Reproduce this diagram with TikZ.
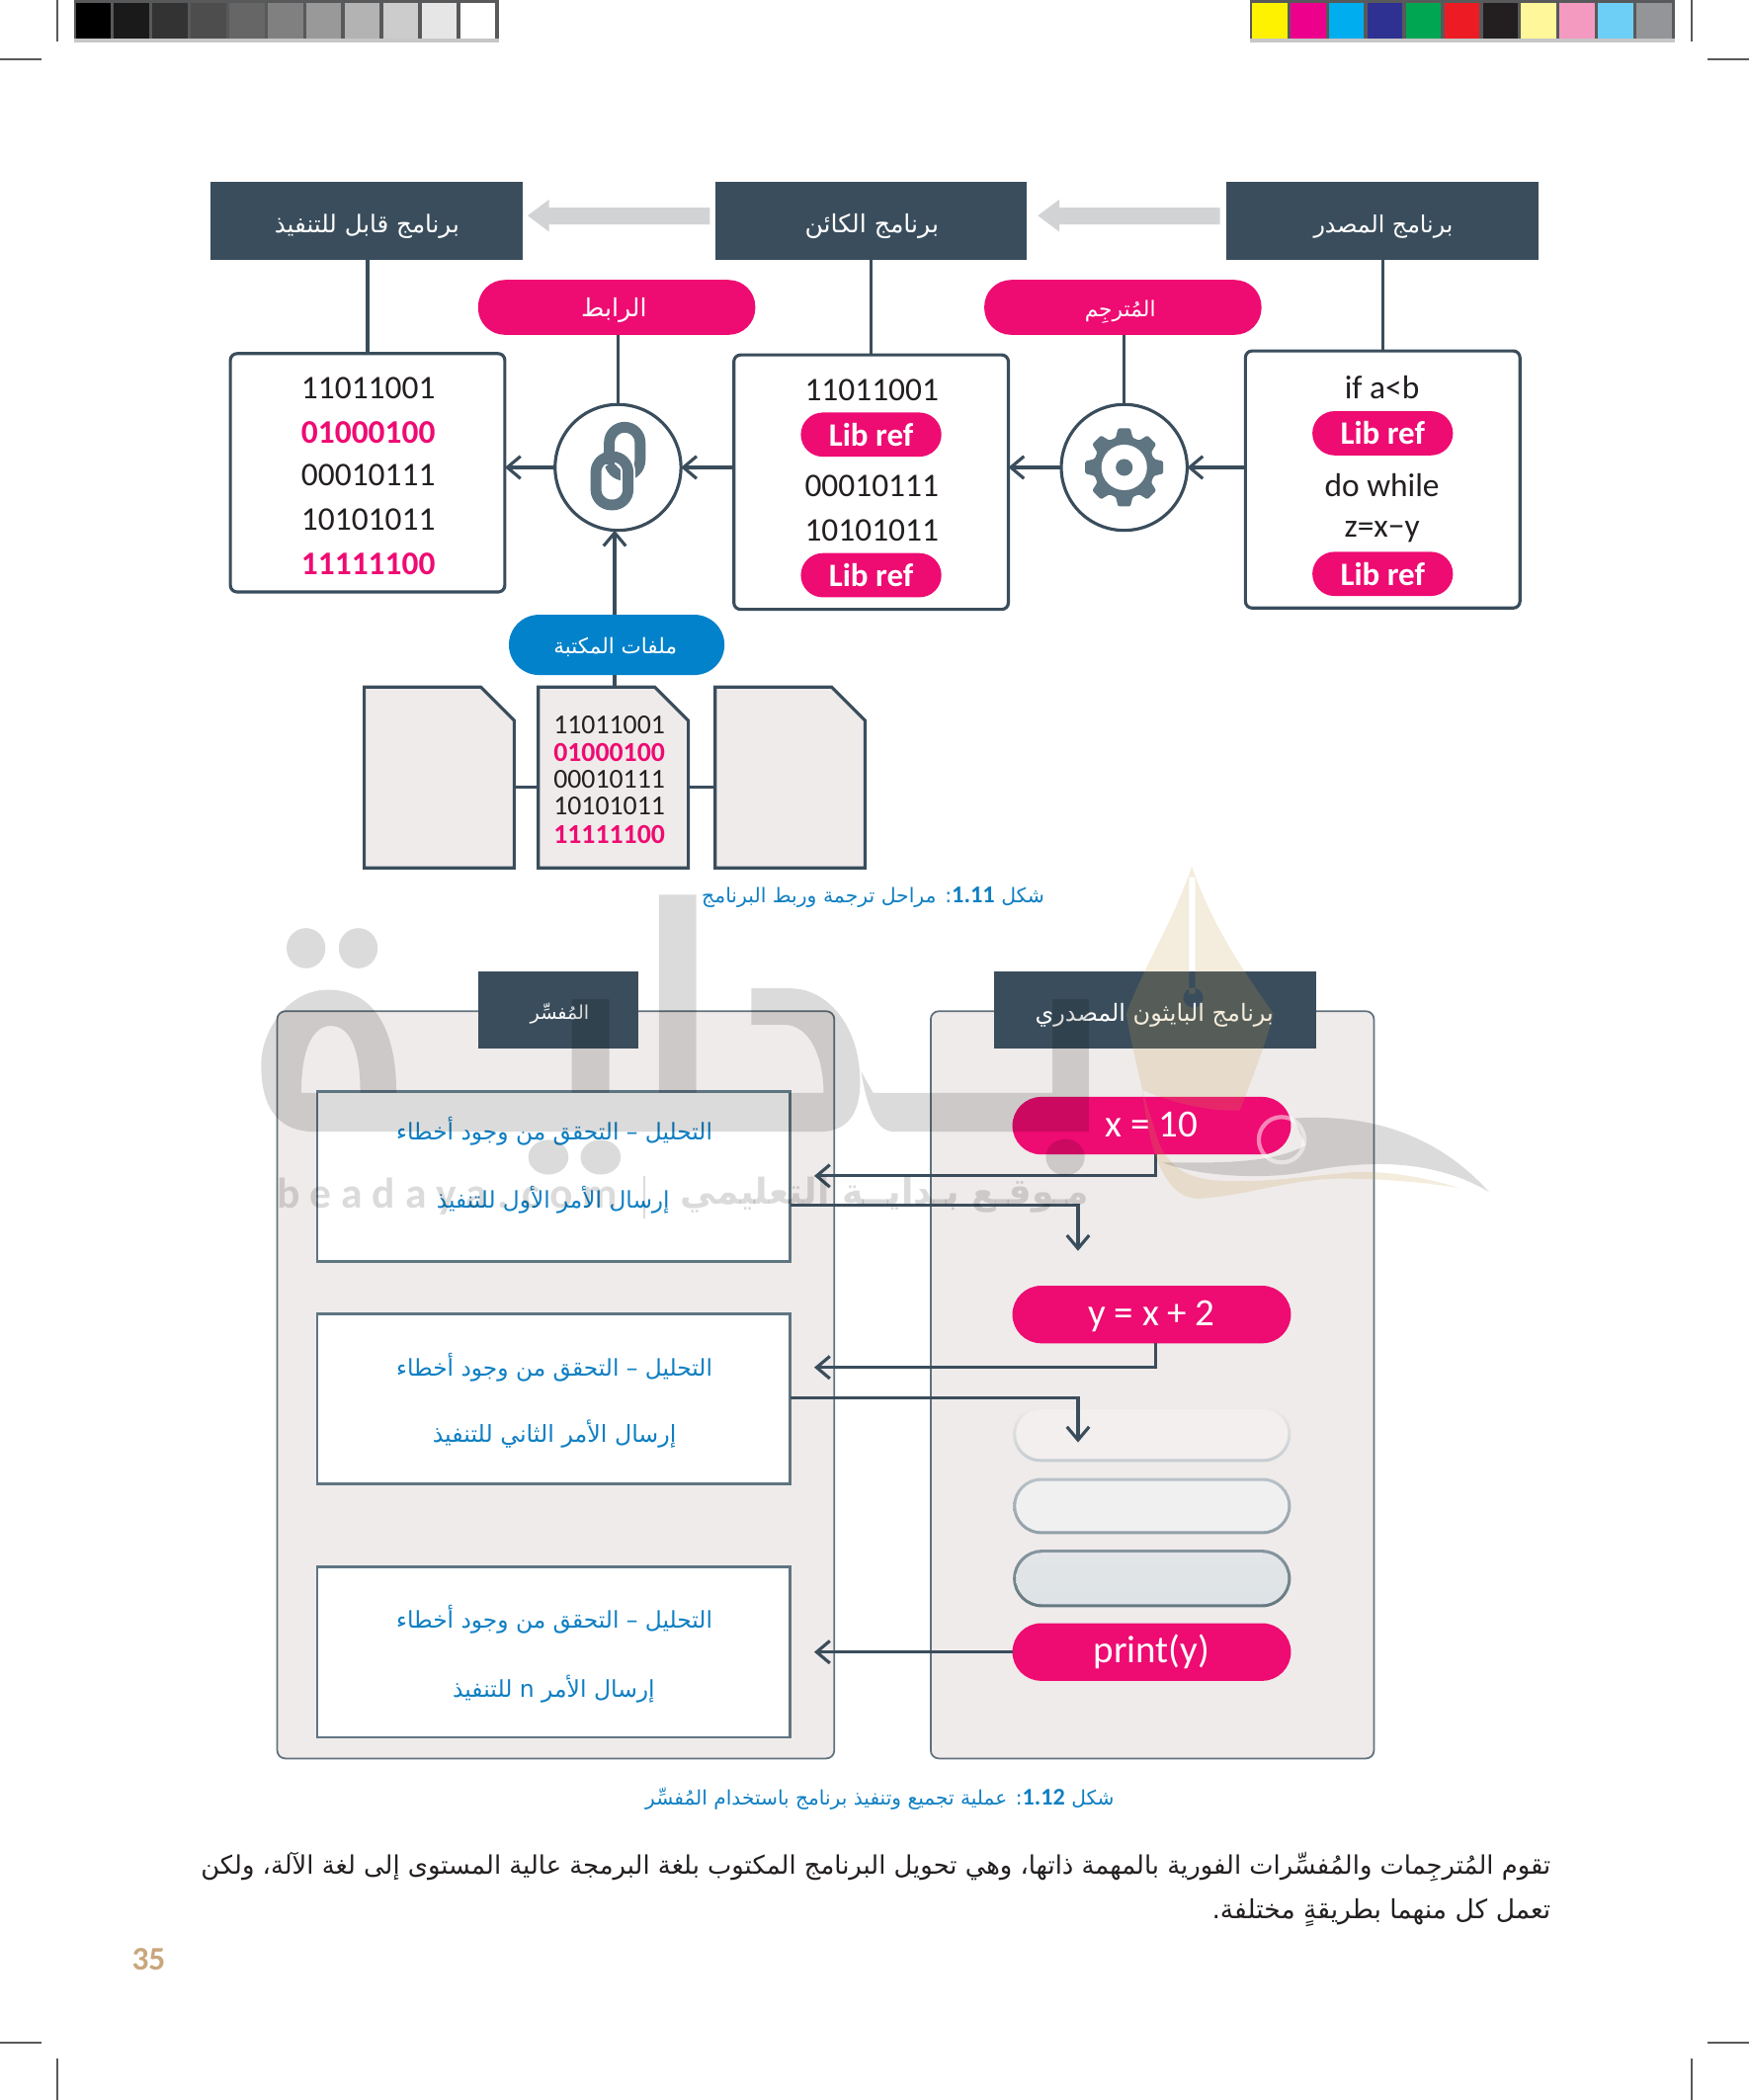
\documentclass[tikz,border=0pt]{standalone}
\usepackage{fontspec}
\usepackage{graphicx}
\usetikzlibrary{arrows.meta}
\setmainfont{Carlito}
\newfontfamily\arfont[Script=Arabic]{DejaVu Sans}
\TeXXeTstate=1
\newdimen\ux \ux=0.3855pt
\newcommand\arw[2]{\resizebox{#1\ux}{!}{\arfont #2}}
\newcommand\codeA{\fontsize{9.5pt}{11pt}\selectfont}
\newcommand\codeB{\fontsize{7.9pt}{9pt}\selectfont}
\newcommand\numb[1]{{\normalfont\bfseries\large #1}}
\definecolor{hdr}{HTML}{3A4D5C}
\definecolor{pinkc}{HTML}{EE0B72}
\definecolor{bluec}{HTML}{0282CB}
\definecolor{panelc}{HTML}{EFEBEA}
\definecolor{grayarrow}{HTML}{D1D3D4}
\definecolor{iconc}{HTML}{5F7582}
\definecolor{txtc}{HTML}{231F20}
\definecolor{capc}{HTML}{0F7FC2}
\definecolor{edgec}{HTML}{58595B}
\tikzset{
  every node/.style={inner sep=0pt,outer sep=0pt},
  sz/.style 2 args={minimum width=#1*\ux,minimum height=#2*\ux},
  hdrbox/.style={fill=hdr},
  hdrtxt/.style={text=white},
  pillbox/.style={fill=pinkc,rounded corners=20*\ux},
  libpill/.style={fill=pinkc,text=white,rounded corners=16.5*\ux,sz={105}{33},font=\fontsize{9.4pt}{12pt}\selectfont\bfseries},
  codepill/.style={fill=pinkc,text=white,rounded corners=21.5*\ux,sz={208}{43},text height=6.3pt,text depth=0pt,font=\fontsize{11.1pt}{13pt}\selectfont},
  codebox/.style={draw=hdr,line width=.9pt,fill=white,rounded corners=5*\ux},
  ring/.style={circle,draw=hdr,line width=.9pt,fill=white,minimum size=94*\ux},
  ln/.style={draw=hdr,line width=.9pt},
  arr/.style={ln,-{Straight Barb[length=3.8pt,width=6.4pt]}},
  codetxt/.style={text=txtc,font=\codeA},
  codepink/.style={text=pinkc,font=\codeA\bfseries},
  doctxt/.style={text=txtc,font=\codeB},
  docpink/.style={text=pinkc,font=\codeB\bfseries},
  docnode/.style={sz={112}{135}},
  docshape/.style={draw=hdr,line width=.9pt,fill=panelc},
  panel/.style={draw=hdr!80,line width=.5pt,fill=panelc,rounded corners=6*\ux},
  whitebox/.style={draw=iconc,line width=.7pt,fill=white,sz={353}{127}},
  bodyblue/.style={text=capc},
  wm/.style={fill=black,fill opacity=.14},
  tan/.style={fill={rgb,255:red,200;green,160;blue,80},fill opacity=.2},
}
\newcommand\docpath[1]{\draw[docshape] (#1.north west) -- ([xshift=-25*\ux]#1.north east) -- ([yshift=-25*\ux]#1.north east) -- (#1.south east) -- (#1.south west) -- cycle;}
\begin{document}
\begin{tikzpicture}[x=0.013553cm,y=-0.013553cm]
\useasboundingbox (0,0) rectangle (1306,1568);
% printer bars
\fill[edgec] (55,0) rectangle (372.5,29);
\fill[edgec] (933.5,0) rectangle (1251,29);
\fill[black!22] (55,29) rectangle (372.5,31.5);
\fill[black!22] (933.5,29) rectangle (1251,31.5);
\foreach \c [count=\i from 0] in {000000,1A1A1A,333333,4D4D4D,666666,808080,999999,B3B3B3,CCCCCC,E6E6E6,FFFFFF}{
  \definecolor{cellc}{HTML}{\c}
  \fill[cellc] ({56.5+\i*28.7},2.5) rectangle ({56.5+\i*28.7+26.2},28.5);
}
\foreach \c [count=\i from 0] in {FFF200,EC008C,00AEEF,2E3192,00A651,ED1C24,231F20,FFF799,F49AC1,6DCFF6,939598}{
  \definecolor{cellc}{HTML}{\c}
  \fill[cellc] ({935+\i*28.7},2.5) rectangle ({935+\i*28.7+26.2},28.5);
}
% crop marks
\draw[edgec,line width=.5pt] (43,0) -- (43,31) (1263,0) -- (1263,31) (0,44) -- (31,44) (1275,44) -- (1306,44)
  (43,1537) -- (43,1568) (1263,1537) -- (1263,1568) (0,1525) -- (31,1525) (1275,1525) -- (1306,1525);
% headers
\node[hdrbox,sz={233}{58}] (exeh) at (273.5,165) {};
\node[hdrbox,sz={233}{58}] (objh) at (650.5,165) {};
\node[hdrbox,sz={233}{58}] (srch) at (1032.5,165) {};
\node[hdrtxt] (exet) at (274,169) {\arw{138}{\beginR برنامج قابل للتنفيذ\endR}};
\node[hdrtxt] (objt) at (651,169) {\arw{100}{\beginR برنامج الكائن\endR}};
\node[hdrtxt] (srct) at (1033,169) {\arw{104}{\beginR برنامج المصدر\endR}};
% grey arrows
\fill[grayarrow] (530,155) -- (410,155) -- (410,149) -- (394,161) -- (410,173) -- (410,167.5) -- (530,167.5) -- cycle;
\fill[grayarrow] (911,155) -- (791,155) -- (791,149) -- (775,161) -- (791,173) -- (791,167.5) -- (911,167.5) -- cycle;
% pills
\node[pillbox,sz={207}{41}] (linker) at (460.5,229.5) {};
\node[pillbox,sz={207}{41}] (compiler) at (838.5,229.5) {};
\node[hdrtxt] (linkert) at (458.5,232) {\arw{49}{\beginR الرابط\endR}};
\node[hdrtxt] (compilert) at (836.5,233) {\arw{53}{\beginR المُترجِم\endR}};
% code boxes
\node[codebox,sz={205}{178}] (exeb) at (274.5,353) {};
\node[codebox,sz={205}{190}] (objb) at (650.5,360) {};
\node[codebox,sz={205}{192}] (srcb) at (1032.5,358) {};
% circles
\node[ring] (link) at (461.5,349) {};
\node[ring] (gear) at (839.5,349) {};
% connectors
\draw[ln] (exeb.north) -- (exeb.north |- exeh.south);
\draw[ln] (objb.north) -- (objb.north |- objh.south);
\draw[ln] (srcb.north) -- (srcb.north |- srch.south);
\draw[ln] (link.north) -- (link.north |- linker.south);
\draw[ln] (gear.north) -- (gear.north |- compiler.south);
\draw[arr] (link.west) -- (link.west -| exeb.east);
\draw[arr] (link.east -| objb.west) -- (link.east);
\draw[arr] (gear.west) -- (gear.west -| objb.east);
\draw[arr] (gear.east -| srcb.west) -- (gear.east);
% gear icon
\begin{scope}[shift={(gear.center)}]
  \fill[iconc,rounded corners=1*\ux] (-16:23)
    \foreach \a in {0,45,...,315}{ -- (\a-16:23) -- (\a-9:29.5) -- (\a+9:29.5) -- (\a+16:23) } -- cycle;
  \fill[white] (0,0) circle[radius=17];
  \fill[iconc] (0,0) circle[radius=6.3];
\end{scope}
% link icon
\begin{scope}[shift={(link.center)}]
  \draw[iconc,line width=3.1pt,rounded corners=11.5*\ux] (-6.5,-30) rectangle (16.5,6);
  \draw[white,line width=4.2pt,rounded corners=11.5*\ux] (-16.5,-8) rectangle (7.5,28);
  \draw[iconc,line width=3.1pt,rounded corners=11.5*\ux] (-16.5,-8) rectangle (7.5,28);
  \draw[iconc,line width=3.1pt] (-6.5,-14) -- (-6.5,-2);
\end{scope}
% code text
\node[codetxt] (e1) at (275,290) {11011001};
\node[codepink] (e2) at (275,323) {01000100};
\node[codetxt] (e3) at (275,355) {00010111};
\node[codetxt] (e4) at (275,388) {10101011};
\node[codepink] (e5) at (275,421) {11111100};
\node[codetxt] (o1) at (651,291) {11011001};
\node[libpill] (o2) at (650.5,324.5) {Lib ref};
\node[codetxt] (o3) at (651,363) {00010111};
\node[codetxt] (o4) at (651,396) {10101011};
\node[libpill] (o5) at (650.5,429.5) {Lib ref};
\node[codetxt] (s1) at (1032,289) {if a<b};
\node[libpill] (s2) at (1032.5,323.5) {Lib ref};
\node[codetxt] (s3) at (1032,362) {do while};
\node[codetxt] (s4) at (1032,397) {z=x−y};
\node[libpill] (s5) at (1032.5,428.5) {Lib ref};
% library
\coordinate (libx) at (459,0);
\coordinate (docy) at (0,588);
\node[fill=bluec,rounded corners=22.5*\ux,sz={161}{45}] (libf) at (460.5,481.5) {};
\node[hdrtxt] (libt) at (459.5,483.5) {\arw{92}{\beginR ملفات المكتبة\endR}};
\draw[arr] (libx |- libf.north) -- (libx |- link.south);
\node[docnode] (doc1) at (328,580.5) {};
\node[docnode] (doc2) at (458,580.5) {};
\node[docnode] (doc3) at (590,580.5) {};
\docpath{doc1}
\docpath{doc2}
\docpath{doc3}
\draw[ln] (doc1.east |- docy) -- (doc2.west |- docy);
\draw[ln] (doc2.east |- docy) -- (doc3.west |- docy);
\draw[ln] (libx |- libf.south) -- (libx |- doc2.north);
\node[doctxt] (d1) at (455,541) {11011001};
\node[docpink] (d2) at (455,562) {01000100};
\node[doctxt] (d3) at (455,582) {00010111};
\node[doctxt] (d4) at (455,602) {10101011};
\node[docpink] (d5) at (455,623) {11111100};
% caption 1
\node[text=capc] (cap1) at (652,670) {\arw{256}{\beginR شكل \beginL\numb{1.11}\endL: مراحل ترجمة وربط البرنامج\endR}};
% panels
\node[panel,sz={416}{558}] (pl) at (415,1034) {};
\node[panel,sz={331}{558}] (pr) at (860.5,1034) {};
\node[hdrbox,sz={120}{58}] (hl) at (417,754) {};
\node[hdrbox,sz={241}{58}] (hr) at (862.5,754) {};
\node[hdrtxt] (hlt) at (418,757) {\arw{44}{\beginR المُفسِّر\endR}};
\node[hdrtxt] (hrt) at (862,758) {\arw{178}{\beginR برنامج البايثون المصدري\endR}};
% white boxes
\node[whitebox] (w1) at (413.5,878.5) {};
\node[whitebox] (w2) at (413.5,1044.5) {};
\node[whitebox] (w3) at (413.5,1233.5) {};
\node[bodyblue] (t11) at (414,845) {\arw{236}{\beginR التحليل – التحقق من وجود أخطاء\endR}};
\node[bodyblue] (t12) at (413,896) {\arw{174}{\beginR إرسال الأمر الأول للتنفيذ\endR}};
\node[bodyblue] (t21) at (414,1021) {\arw{236}{\beginR التحليل – التحقق من وجود أخطاء\endR}};
\node[bodyblue] (t22) at (414,1071) {\arw{182}{\beginR إرسال الأمر الثاني للتنفيذ\endR}};
\node[bodyblue] (t31) at (414,1209) {\arw{236}{\beginR التحليل – التحقق من وجود أخطاء\endR}};
\node[bodyblue] (t32) at (413.5,1261) {\arw{151}{\beginR إرسال الأمر \beginL n\endL{} للتنفيذ\endR}};
% code pills
\node[codepill] (p1) at (860,840.5) {x = 10};
\node[codepill] (p2) at (860,981.5) {y = x + 2};
\node[codepill] (p6) at (860,1233.5) {print(y)};
% pale pills
\definecolor{pa}{HTML}{EFEBEA}\definecolor{pb}{HTML}{C5CCD0}\definecolor{pc}{HTML}{B9C2C7}\definecolor{pd}{HTML}{8F9EA7}
\definecolor{pe}{HTML}{8796A0}\definecolor{pf}{HTML}{63777F}\definecolor{pg}{HTML}{E3E5E8}\definecolor{ph}{HTML}{DDE3E6}
\node[rounded corners=20.5*\ux,top color=pa,bottom color=pb,sz={207.5}{41.5}] (p3o) at (860.2,1070.8) {};
\node[rounded corners=18.5*\ux,fill=panelc!80!white,sz={203}{37}] (p3i) at (860.2,1070.8) {};
\node[rounded corners=21*\ux,top color=pc,bottom color=pd,sz={207.5}{42}] (p4o) at (860.2,1124.5) {};
\node[rounded corners=19*\ux,fill=black!6,sz={203}{37.5}] (p4i) at (860.2,1124.5) {};
\node[rounded corners=21.5*\ux,top color=pe,bottom color=pf,sz={207.5}{43}] (p5o) at (860.2,1178.6) {};
\node[rounded corners=19.5*\ux,top color=pg,bottom color=ph,sz={203}{38.5}] (p5i) at (860.2,1178.6) {};
% flow connectors
\coordinate (c1) at (863,878);
\coordinate (a1) at (608,878);
\coordinate (e1c) at (805,900);
\coordinate (b1) at (805,934);
\coordinate (c2) at (863,1021);
\coordinate (a2) at (608,1021);
\coordinate (e2c) at (805,1044);
\coordinate (b2) at (805,1077);
\coordinate (a3) at (608,1234);
\draw[arr] (c1 |- p1.south) -- (c1) -- (a1);
\draw[arr] (w1.east |- e1c) -- (e1c) -- (b1);
\draw[arr] (c2 |- p2.south) -- (c2) -- (a2);
\draw[arr] (w2.east |- e2c) -- (e2c) -- (b2);
\draw[arr] (p6.west) -- (a3 |- p6.west);
% caption 2, body, page number
\node[text=capc] (cap2) at (657,1343) {\arw{350}{\beginR شكل \beginL\numb{1.12}\endL: عملية تجميع وتنفيذ برنامج باستخدام المُفسِّر\endR}};
\node[anchor=east,text=txtc] (body1) at (1158,1394) {\arw{1008}{\beginR تقوم المُترجِمات والمُفسِّرات الفورية بالمهمة ذاتها، وهي تحويل البرنامج المكتوب بلغة البرمجة عالية المستوى إلى لغة الآلة، ولكن\endR}};
\node[anchor=east,text=txtc] (body2) at (1158,1428) {\arw{253}{\beginR تعمل كل منهما بطريقةٍ مختلفة.\endR}};
\node[text={rgb,255:red,201;green,167;blue,124},font=\fontsize{9.5pt}{11pt}\selectfont\bfseries] (pnum) at (111,1463) {35};
% watermark
\fill[tan,even odd rule] (890,647) .. controls (875,690) and (855,720) .. (841,757) .. controls (845,780) and (850,800) .. (853,814)
   .. controls (880,825) and (905,830) .. (926,829) .. controls (935,805) and (945,780) .. (951,757) .. controls (925,720) and (905,690) .. (890,647) -- cycle
   (888,655) rectangle (892.5,742)
   (891,745) circle[radius=7.5];
\fill[tan] (853,814) .. controls (858,860) and (870,895) .. (895,895) .. controls (930,893) and (965,880) .. (1000,880) .. controls (1040,880) and (1070,884) .. (1090,887)
   .. controls (1060,878) and (1030,873) .. (1003,876) .. controls (970,879) and (935,884) .. (905,881) .. controls (885,879) and (872,870) .. (865,852) -- cycle;
\fill[wm] (966,835) .. controls (1040,830) and (1085,860) .. (1112,890) .. controls (1070,865) and (1020,866) .. (975,875) .. controls (950,880) and (900,880) .. (868,868) .. controls (900,868) and (950,870) .. (975,855) -- cycle;
\draw[white,opacity=.5,line width=1.2pt] (957,851) circle[radius=17];
\fill[wm] (296,816) .. controls (296,770) and (280,739) .. (245,739) .. controls (215,739) and (195,770) .. (195,795) .. controls (195,830) and (210,845) .. (235,845)
   -- (612,845) .. controls (630,845) and (640,835) .. (642,815) .. controls (645,770) and (620,738) .. (590,738) -- (561,738) -- (561,765) -- (585,765)
   .. controls (605,765) and (615,790) .. (615,816) -- (520,816) -- (520,668) -- (492,668) -- (492,816) -- (455,816) -- (455,746) -- (427,746) -- (427,816) -- cycle
   (247,766) .. controls (260,766) and (269,780) .. (269,816) -- (225,816) .. controls (225,780) and (235,766) .. (247,766) -- cycle
   (643,800) .. controls (648,830) and (655,845) .. (668,845) -- (813,845) -- (813,746) -- (786,746) -- (786,816) -- (652,816) -- cycle
   (228.5,708) ellipse[x radius=14.5,y radius=15]
   (267.5,708) ellipse[x radius=14.5,y radius=15]
   (409.5,864) ellipse[x radius=15,y radius=13]
   (448.5,864) ellipse[x radius=15,y radius=13]
   (795.5,864) ellipse[x radius=14.5,y radius=13.5];
\node[anchor=west,opacity=.14,font=\bfseries] (wm1) at (207,893) {\resizebox{254\ux}{!}{b e a d a y a . c o m}};
\node[opacity=.14,fill=black,sz={1.5}{32}] (wm2) at (481,894) {};
\node[anchor=east,opacity=.14] (wm3) at (813,892) {\resizebox{305\ux}{!}{\arfont\bfseries\beginR مـوقـع بـدايــة التعليمي\endR}};
\end{tikzpicture}
\end{document}
